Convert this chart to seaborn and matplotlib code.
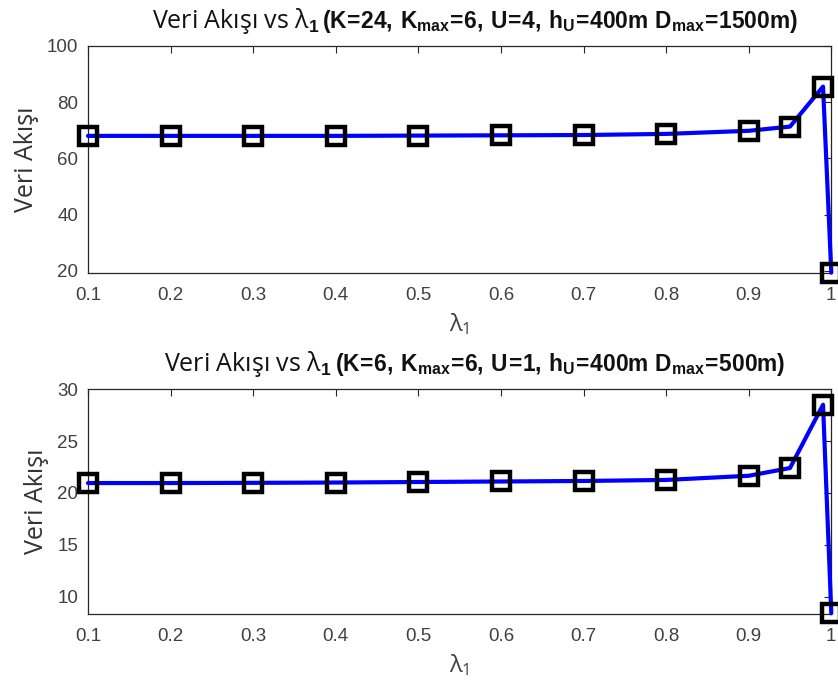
import numpy as np
import pandas as pd
import matplotlib
matplotlib.use("Agg")
import matplotlib.pyplot as plt
import matplotlib.transforms as mtransforms
import seaborn as sns

# lambda_1 sweep values
lam = [0.1, 0.2, 0.3, 0.4, 0.5, 0.6, 0.7, 0.8, 0.9, 0.95, 0.99, 1.0]

# data flow for the two scenarios
flow_k24 = [68.0, 68.0, 68.0, 68.0, 68.1, 68.2, 68.3, 68.7, 69.8, 71.3, 85.5, 19.4]
flow_k6 = [20.95, 20.95, 20.97, 21.0, 21.05, 21.1, 21.15, 21.25, 21.65, 22.4, 28.5, 8.4]

xticks = [0.1, 0.2, 0.3, 0.4, 0.5, 0.6, 0.7, 0.8, 0.9, 1.0]
xtick_labels = ["0.1", "0.2", "0.3", "0.4", "0.5", "0.6", "0.7", "0.8", "0.9", "1"]

title_lead = r"Veri Akışı vs $\lambda_\mathbf{1}$ "
title_params = [
    r"$\mathbf{(K\!=\!24,\,K_{max}\!=\!6,\,U\!=\!4,\,h_U\!=\!400m\ D_{max}\!=\!1500m)}$",
    r"$\mathbf{(K\!=\!6,\,K_{max}\!=\!6,\,U\!=\!1,\,h_U\!=\!400m\ D_{max}\!=\!500m)}$",
]

sns.set_style("white")
plt.rcParams["font.family"] = ["Liberation Sans", "DejaVu Sans"]
plt.rcParams["mathtext.fontset"] = "custom"
plt.rcParams["mathtext.rm"] = "Open Sans"
plt.rcParams["mathtext.it"] = "Open Sans"
plt.rcParams["mathtext.bf"] = "Liberation Sans:bold"

fig = plt.figure(figsize=(8.38, 6.84), dpi=100)
ax1 = fig.add_axes([0.105, 0.601, 0.887, 0.332])
ax2 = fig.add_axes([0.105, 0.102, 0.887, 0.329])

panels = [
    (ax1, flow_k24, (19.3, 100), [20, 40, 60, 80, 100]),
    (ax2, flow_k6, (8.3, 30), [10, 15, 20, 25, 30]),
]

title_pairs = []
for (ax, vals, ylim, yticks), params in zip(panels, title_params):
    df = pd.DataFrame({"lam": lam, "flow": vals})
    sns.lineplot(data=df, x="lam", y="flow", ax=ax, color="#0000ff",
                 linewidth=3, marker="s", markersize=12.5,
                 markerfacecolor="none", markeredgecolor="black",
                 markeredgewidth=3.2, clip_on=False, zorder=3)
    ax.set_xlim(0.1, 1.0)
    ax.set_ylim(*ylim)
    ax.set_xticks(xticks)
    ax.set_xticklabels(xtick_labels)
    ax.set_yticks(yticks)
    ax.tick_params(axis="both", which="both", direction="in", length=5,
                   width=0.8, colors="#262626", labelcolor="#404040",
                   labelsize=13.5, top=True, right=True)
    ax.tick_params(axis="x", pad=10)
    ax.tick_params(axis="y", pad=7)
    for s in ax.spines.values():
        s.set_visible(True)
        s.set_color("#262626")
        s.set_linewidth(0.9)
    ax.set_xlabel(r"$\lambda_1$", fontsize=17, color="#404040", labelpad=5)
    ax.set_ylabel("Veri Akışı", fontsize=18, family="Open Sans",
                  color="#333333", labelpad=6)

    # two-part title: regular lead text followed by bold parameter list
    off = mtransforms.offset_copy(ax.transAxes, fig=fig, x=0, y=18, units="dots")
    t1 = ax.text(0.52, 1.0, title_lead, transform=off, fontsize=18,
                 family="Open Sans", color="#111111", ha="right", va="baseline")
    t2 = ax.text(0.52, 1.0, params, transform=off, fontsize=16.4,
                 color="#111111", ha="left", va="baseline")
    title_pairs.append((ax, t1, t2))

# center each composite title around the same point
fig.canvas.draw()
renderer = fig.canvas.get_renderer()
center_px = 474
for ax, t1, t2 in title_pairs:
    w1 = t1.get_window_extent(renderer).width
    w2 = t2.get_window_extent(renderer).width
    split_px = center_px - (w1 + w2) / 2 + w1
    ax_left = ax.get_window_extent(renderer).x0
    ax_w = ax.get_window_extent(renderer).width
    frac = (split_px - ax_left) / ax_w
    t1.set_x(frac)
    t2.set_x(frac + 2 / ax_w)

fig.savefig("out.png", dpi=100)
